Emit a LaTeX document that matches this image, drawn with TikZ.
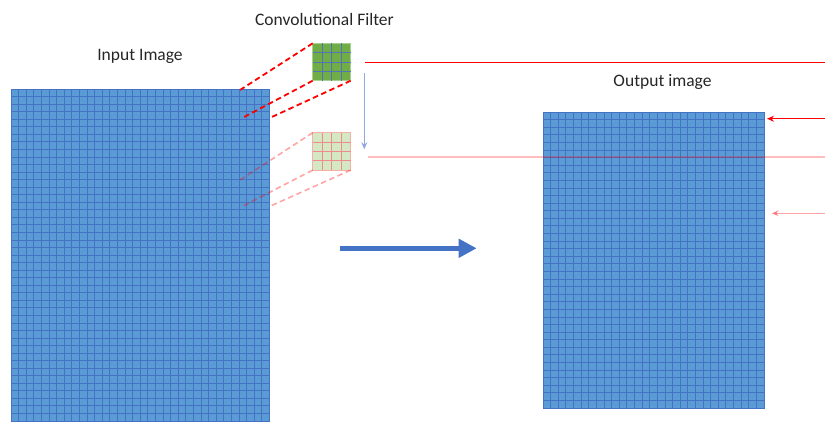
\documentclass[tikz,border=0pt]{standalone}
\usepackage{fontspec}
\setmainfont{Carlito}
\usetikzlibrary{arrows.meta}

\definecolor{cellblue}{HTML}{5B9BD5}
\definecolor{lineblue}{HTML}{4472C4}
\definecolor{filtergreen}{HTML}{70AD47}
\definecolor{filteredge}{HTML}{A9D18E}
\definecolor{palegreen}{HTML}{D5E8C4}
\definecolor{palered}{HTML}{F08A8A}
\definecolor{pinkedge}{HTML}{F4B1A8}
\definecolor{thinblue}{HTML}{8FAADC}

\tikzset{
  label text/.style={font=\fontsize{17.5}{21}\selectfont, text=black!85, inner sep=0pt, anchor=base},
  imgbox/.style={fill=cellblue, draw=lineblue, line width=0.8pt, anchor=north west, inner sep=0pt, outer sep=0pt},
  gridline/.style={draw=lineblue, line width=0.8pt},
  filterbox/.style={fill=filtergreen, draw=filteredge, line width=0.8pt, anchor=north west, inner sep=0pt, outer sep=0pt, minimum width=38pt, minimum height=37.4pt},
  ghostbox/.style={fill=palegreen, draw=pinkedge, line width=1pt, anchor=north west, inner sep=0pt, outer sep=0pt, minimum width=38pt, minimum height=37.4pt},
  projline/.style={draw=red, line width=1.8pt, dash pattern=on 5.5pt off 3.5pt},
  ghostproj/.style={draw=red, draw opacity=0.35, line width=1.6pt, dash pattern=on 5.5pt off 3.5pt},
  sweepline/.style={line width=1pt},
  faded/.style={draw=red, draw opacity=0.25, fill opacity=0.3},
}

\begin{document}
\begin{tikzpicture}[x=1pt, y=-1pt]
\useasboundingbox (0,0) rectangle (825,421);

% titles
\node[label text] (tin) at (140,60) {Input Image};
\node[label text] (tfilt) at (324.5,25) {Convolutional Filter};
\node[label text] (tout) at (662.5,86) {Output image};

% input image: 34 x 44 cells
\node[imgbox, minimum width=258.4pt, minimum height=332pt] (inimg) at (11,89) {};
\foreach \i in {1,...,33} \draw[gridline] (11+\i*7.6,89) -- (11+\i*7.6,421);
\foreach \j in {1,...,43} \draw[gridline] (11,89+\j*7.545) -- (269.4,89+\j*7.545);

% output image: 29 x 39 cells
\node[imgbox, minimum width=221pt, minimum height=296pt] (outimg) at (543,112) {};
\foreach \i in {1,...,28} \draw[gridline] (543+\i*7.62,112) -- (543+\i*7.62,408);
\foreach \j in {1,...,38} \draw[gridline] (543,112+\j*7.59) -- (764,112+\j*7.59);

% filter in its first position
\node[filterbox] (filt) at (312.7,43.3) {};
\foreach \k in {1,2,3} {
  \draw[draw=lineblue!80!gray, line width=0.9pt] (312.7+\k*9.5,43.3) -- (312.7+\k*9.5,80.7);
  \draw[draw=lineblue!80!gray, line width=0.9pt] (312.7,43.3+\k*9.35) -- (350.7,43.3+\k*9.35);
}

% filter in its next position
\node[ghostbox] (ghost) at (312.7,132.7) {};
\foreach \k in {1,2,3} {
  \draw[draw=palered, line width=0.9pt] (312.7+\k*9.5,132.7) -- (312.7+\k*9.5,170.1);
  \draw[draw=palered, line width=0.9pt] (312.7,132.7+\k*9.35) -- (350.7,132.7+\k*9.35);
}

% receptive field corners on the input image
\coordinate (p1) at (240,90);
\coordinate (p2) at (241.7,118.3);
\coordinate (p3) at (269,118.3);
\coordinate (q1) at (240,180);
\coordinate (q2) at (241.7,206.7);
\coordinate (q3) at (269,206.7);

\draw[projline] (filt.north west) -- (p1);
\draw[projline] (filt.south west) -- (p2);
\draw[projline] (filt.south east) -- (p3);
\draw[ghostproj] (ghost.north west) -- (q1);
\draw[ghostproj] (ghost.south west) -- (q2);
\draw[ghostproj] (ghost.south east) -- (q3);

% stride arrow
\coordinate (s1) at (364.3,72.7);
\coordinate (s2) at (364.3,149.3);
\draw[thinblue, line width=1pt, -{Stealth[length=7pt,width=6pt]}] (s1) -- (s2);

% rows mapped onto the output image
\coordinate (r1) at (365,62);
\coordinate (r2) at (825,62);
\coordinate (r3) at (825,118.7);
\coordinate (r4) at (767,118.7);
\coordinate (g1) at (368,157);
\coordinate (g2) at (825,157);
\coordinate (g3) at (825,213.3);
\coordinate (g4) at (771.7,213.3);
\draw[red, sweepline] (r1) -- (r2);
\draw[red, sweepline, -{Stealth[length=7pt,width=6pt]}] (r3) -- (r4);
\draw[faded, sweepline, line width=1.3pt] (g1) -- (g2);
\draw[faded, sweepline, draw opacity=0.35, -{Stealth[length=7pt,width=6pt]}] (g3) -- (g4);

% main transform arrow
\coordinate (a1) at (340,248.3);
\coordinate (a2) at (476.7,248.3);
\draw[lineblue, line width=5pt, -{Triangle[length=18pt,width=18pt]}] (a1) -- (a2);
\end{tikzpicture}
\end{document}
